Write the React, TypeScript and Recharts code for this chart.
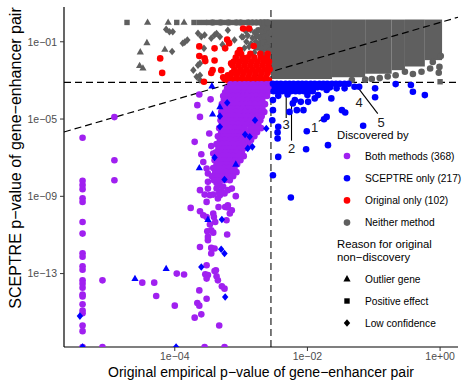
import React from 'react';
import { ScatterChart, Scatter, XAxis, YAxis, ReferenceLine, ReferenceArea, Legend } from 'recharts';

// all values are log10 p-values: [original empirical, SCEPTRE]
const P0 = -16.8; // p = 0 sits on the panel floor
const xDomain = [-5.67, 0.27];
const yDomain = [-16.8, 0.8];
const xTicks = [-4, -2, 0];
const yTicks = [-13, -9, -5, -1];
const originalCutoff = -2.55;
const sceptreCutoff = -3.1;

// the solid grey mass of non-discoveries (too dense to see single points)
const greyBlock = [
  { x1: -2.72, x2: -2.55, y1: -1.5, y2: 0.15 },
  { x1: -2.55, x2: -1.63, y1: -2.93, y2: 0.15 },
  { x1: -1.63, x2: -1.13, y1: -2.83, y2: 0.15 },
  { x1: -1.13, x2: -0.73, y1: -2.65, y2: 0.15 },
  { x1: -0.73, x2: -0.53, y1: -2.47, y2: 0.15 },
  { x1: -0.53, x2: -0.23, y1: -2.28, y2: 0.15 },
  { x1: -0.23, x2: 0.03, y1: -1.95, y2: 0.15 },
];

const neitherCircles = [
  [-3.43, 0], [-3.31, 0], [-3.19, 0], [-3.07, 0], [-3.01, 0], [-2.89, 0], [-2.83, 0], [-2.77, 0], [-2.71, 0], [-2.65, 0], [-2.6, 0],
  [-2.74, -0.4], [-2.67, -0.47], [-2.61, -0.35], [-2.57, -0.55], [-2.76, -0.7], [-2.7, -0.83], [-2.64, -0.72], [-2.58, -0.88],
  [-2.72, -1.12], [-2.66, -1.03], [-2.6, -1.17], [-2.76, -1.3], [-2.69, -1.38], [-2.62, -1.28], [-2.57, -1.45],
  [-2.68, -1.62], [-2.6, -1.7],
  [-1.33, -2.98], [-1.13, -2.96], [-1.03, -2.93], [-0.91, -2.88], [-0.79, -2.8], [-0.67, -2.73], [-0.53, -2.55],
  [-0.41, -2.67], [-0.28, -2.55], [-0.15, -2.38], [-0.01, -2.3], [-0.02, -2.6], [-0.11, -2.05], [0.01, -1.74],
];
const neitherSquares = [
  [-4.72, 0], [-3.97, 0], [-3.71, 0], [-3.63, 0], [-3.55, 0], [-3.49, 0], [-3.37, 0], [-3.25, 0], [-3.13, 0], [-2.95, 0],
  [0.0, -3.07],
];
const neitherTriangles = [
  [-4.41, 0], [-4.1, 0], [-3.86, 0], [-4.42, -1.05], [-4.52, -1.53], [-4.53, -2.23], [-4.48, -2.36], [-4.15, -1.39],
];
const neitherDiamonds = [
  [-4.13, -0.36], [-4.08, -0.48], [-4.03, -0.48], [-4.04, -1.5], [-3.81, -0.91], [-3.85, -1.02], [-3.88, -1.08],
  [-3.65, -0.56], [-3.6, -0.74], [-3.55, -0.65], [-3.45, -0.82], [-3.4, -0.65], [-3.56, -1.34], [-3.62, -2.12],
  [-3.65, -2.21], [-3.67, -2.81], [-3.62, -2.98], [-3.62, -2.73], [-3.72, -2.47], [-3.02, -2.98], [-3.07, -2.73],
  [-3.37, -0.57], [-3.32, -0.74], [-3.1, -0.91], [-2.99, -0.74], [-2.92, -1.0], [-2.93, -0.45], [-2.86, -0.38],
  [-2.8, -0.52], [-2.97, -0.75], [-2.9, -0.68], [-2.83, -0.8], [-2.85, -1.1], [-2.78, -0.98], [-2.95, -1.32],
  [-2.88, -1.25], [-2.8, -1.55], [-3.2, -0.4], [-3.28, -1.15],
];

const originalCircles = [
  [-4.22, -1.86], [-4.19, -2.61], [-3.63, -1.24], [-3.63, -1.74], [-3.55, -1.86], [-3.54, -2.0], [-3.4, -1.97],
  [-3.4, -1.34], [-3.21, -0.89], [-3.18, -1.07], [-2.97, -0.31], [-2.88, -0.31], [-2.81, -1.22], [-3.24, -1.34],
  [-3.02, -1.43], [-3.05, -1.59], [-3.15, -2.12], [-3.43, -2.47], [-3.45, -2.62], [-3.3, -2.47], [-3.27, -2.84],
  [-3.56, -3.07], [-3.2, -2.73], [-3.25, -2.93],
  [-3.0, -1.62], [-2.86, -1.62], [-2.71, -1.62], [-2.6, -1.62],
  [-3.08, -1.82], [-2.98, -1.82], [-2.9, -1.82], [-2.8, -1.82], [-2.7, -1.82], [-2.61, -1.82],
  [-3.11, -2.02], [-3.02, -2.02], [-2.93, -2.02], [-2.84, -2.02], [-2.75, -2.02], [-2.66, -2.02], [-2.58, -2.02],
  [-3.13, -2.22], [-3.04, -2.22], [-2.95, -2.22], [-2.86, -2.22], [-2.77, -2.22], [-2.68, -2.22], [-2.59, -2.22],
  [-3.1, -2.42], [-3.01, -2.42], [-2.92, -2.42], [-2.83, -2.42], [-2.74, -2.42], [-2.65, -2.42], [-2.57, -2.42],
  [-3.14, -2.62], [-3.05, -2.62], [-2.96, -2.62], [-2.87, -2.62], [-2.78, -2.62], [-2.69, -2.62], [-2.6, -2.62],
  [-3.16, -2.82], [-3.07, -2.82], [-2.98, -2.82], [-2.89, -2.82], [-2.8, -2.82], [-2.71, -2.82], [-2.62, -2.82],
  [-3.2, -3.0], [-3.11, -3.0], [-3.02, -3.0], [-2.93, -3.0], [-2.84, -3.0], [-2.75, -3.0], [-2.66, -3.0], [-2.58, -3.0],
];

const bothSparse = [
  [-5.39, -5.97], [-5.39, -8.2], [-5.39, -8.42], [-5.39, -8.63], [-5.39, -9.1], [-5.39, -9.29], [-5.39, -10.33],
  [-5.39, -10.93], [-5.39, -11.95], [-5.39, -12.13], [-5.39, -12.62], [-5.39, -12.8], [-5.39, -13.35], [-5.39, -13.52],
  [-5.39, -13.73], [-5.39, -14.08], [-5.39, -14.18], [-5.39, -14.59], [-5.39, -14.91], [-5.39, -15.05], [-5.39, -15.69],
  [-5.39, -15.98], [-5.39, P0],
  [-4.91, -4.9], [-4.91, -7.13], [-4.91, -8.17], [-5.09, -13.35], [-5.09, P0],
  [-4.49, -13.47], [-4.31, -13.47], [-4.28, -14.16], [-3.97, -13.0], [-3.86, -13.05], [-4.0, -14.66],
  [-3.54, -13.04], [-3.5, -13.07], [-3.52, -13.26], [-3.4, -12.87], [-3.37, -13.14], [-3.35, -13.35], [-3.29, -13.66],
  [-3.25, -13.78], [-3.63, -13.87], [-3.52, -14.3], [-3.66, -14.52], [-3.63, -14.66], [-3.6, -15.11], [-3.7, -15.28],
  [-3.33, -15.69], [-3.55, P0], [-3.25, P0],
  [-3.5, -8.25], [-3.37, -8.17], [-3.32, -8.43], [-3.27, -8.51], [-3.2, -8.68], [-3.62, -8.68], [-3.5, -8.6],
  [-3.37, -8.6], [-3.3, -8.74], [-3.42, -8.91], [-3.55, -8.91], [-3.47, -8.94], [-3.32, -8.94], [-3.25, -8.85],
  [-3.35, -9.11], [-3.08, -8.99], [-3.52, -9.29], [-3.76, -9.6], [-3.34, -9.55], [-3.24, -9.55], [-3.2, -9.46],
  [-3.14, -9.72], [-3.62, -9.77], [-3.57, -9.98], [-3.52, -10.07], [-3.42, -9.89], [-3.41, -10.07], [-3.22, -10.24],
  [-3.47, -10.46], [-3.39, -10.33], [-3.51, -10.81], [-3.45, -10.76], [-3.42, -10.88], [-3.21, -10.98], [-3.5, -11.27],
  [-3.62, -11.62], [-3.45, -11.67], [-3.4, -11.7], [-3.45, -11.96], [-3.52, -12.57], [-3.38, -12.83],
  [-3.63, -3.73], [-3.46, -3.98], [-3.66, -4.28], [-3.62, -4.89], [-3.48, -5.75], [-3.7, -6.18], [-3.45, -6.4],
  [-3.6, -6.82], [-3.57, -7.22], [-3.52, -7.56], [-3.37, -8.31], [-3.33, -8.85], [-3.14, -8.6], [-3.5, -11.1],
  [-3.2, -9.58], [-3.17, -9.89], [-3.42, -6.78], [-3.5, -7.82],
];
const bothCore = [
  [-3.16, -3.2], [-3.09, -3.2], [-3.02, -3.2], [-2.95, -3.2], [-2.89, -3.2], [-2.82, -3.2], [-2.75, -3.2], [-2.69, -3.2], [-2.62, -3.2], [-2.57, -3.2],
  [-3.21, -3.4], [-3.13, -3.4], [-3.05, -3.4], [-2.99, -3.4], [-2.92, -3.4], [-2.85, -3.4], [-2.79, -3.4], [-2.72, -3.4], [-2.65, -3.4], [-2.58, -3.4],
  [-3.24, -3.61], [-3.17, -3.61], [-3.1, -3.61], [-3.03, -3.61], [-2.96, -3.61], [-2.88, -3.61], [-2.81, -3.61], [-2.74, -3.61], [-2.67, -3.61], [-2.6, -3.61],
  [-3.27, -3.81], [-3.19, -3.81], [-3.12, -3.81], [-3.05, -3.81], [-2.97, -3.81], [-2.91, -3.81], [-2.84, -3.81], [-2.77, -3.81], [-2.7, -3.81], [-2.61, -3.81],
  [-3.26, -4.02], [-3.18, -4.02], [-3.1, -4.02], [-3.04, -4.02], [-2.98, -4.02], [-2.9, -4.02], [-2.82, -4.02], [-2.75, -4.02], [-2.68, -4.02],
  [-3.29, -4.23], [-3.22, -4.23], [-3.14, -4.23], [-3.07, -4.23], [-2.99, -4.23], [-2.93, -4.23], [-2.86, -4.23], [-2.79, -4.23], [-2.71, -4.23], [-2.64, -4.23],
  [-3.28, -4.44], [-3.2, -4.44], [-3.12, -4.44], [-3.05, -4.44], [-2.97, -4.44], [-2.89, -4.44], [-2.83, -4.44], [-2.76, -4.44], [-2.68, -4.44],
  [-3.3, -4.64], [-3.23, -4.64], [-3.16, -4.64], [-3.08, -4.64], [-3.01, -4.64], [-2.94, -4.64], [-2.87, -4.64], [-2.8, -4.64], [-2.72, -4.64], [-2.65, -4.64],
  [-3.27, -4.85], [-3.19, -4.85], [-3.11, -4.85], [-3.04, -4.85], [-2.96, -4.85], [-2.9, -4.85], [-2.84, -4.85], [-2.76, -4.85], [-2.69, -4.85],
  [-3.31, -5.06], [-3.24, -5.06], [-3.15, -5.06], [-3.07, -5.06], [-3.0, -5.06], [-2.93, -5.06], [-2.85, -5.06], [-2.78, -5.06], [-2.71, -5.06],
  [-3.29, -5.26], [-3.21, -5.26], [-3.13, -5.26], [-3.05, -5.26], [-2.98, -5.26], [-2.9, -5.26], [-2.82, -5.26], [-2.74, -5.26],
  [-3.33, -5.47], [-3.25, -5.47], [-3.17, -5.47], [-3.09, -5.47], [-3.02, -5.47], [-2.95, -5.47], [-2.86, -5.47], [-2.78, -5.47], [-2.7, -5.47],
  [-3.3, -5.68], [-3.22, -5.68], [-3.14, -5.68], [-3.06, -5.68], [-2.99, -5.68], [-2.91, -5.68], [-2.83, -5.68], [-2.76, -5.68],
  [-3.35, -5.89], [-3.27, -5.89], [-3.19, -5.89], [-3.11, -5.89], [-3.03, -5.89], [-2.96, -5.89], [-2.88, -5.89], [-2.8, -5.89],
  [-3.32, -6.09], [-3.24, -6.09], [-3.16, -6.09], [-3.08, -6.09], [-3.0, -6.09], [-2.92, -6.09], [-2.85, -6.09],
  [-3.37, -6.3], [-3.29, -6.3], [-3.21, -6.3], [-3.13, -6.3], [-3.05, -6.3], [-2.97, -6.3], [-2.89, -6.3],
  [-3.34, -6.51], [-3.26, -6.51], [-3.18, -6.51], [-3.1, -6.51], [-3.02, -6.51], [-2.95, -6.51],
  [-3.38, -6.72], [-3.31, -6.72], [-3.23, -6.72], [-3.15, -6.72], [-3.07, -6.72], [-2.99, -6.72],
  [-3.36, -6.92], [-3.28, -6.92], [-3.2, -6.92], [-3.12, -6.92], [-3.04, -6.92], [-2.96, -6.92],
  [-3.4, -7.13], [-3.33, -7.13], [-3.25, -7.13], [-3.17, -7.13], [-3.09, -7.13], [-3.01, -7.13],
  [-3.37, -7.34], [-3.29, -7.34], [-3.22, -7.34], [-3.14, -7.34], [-3.06, -7.34],
  [-3.42, -7.54], [-3.34, -7.54], [-3.26, -7.54], [-3.18, -7.54], [-3.1, -7.54],
  [-3.39, -7.75], [-3.31, -7.75], [-3.23, -7.75], [-3.15, -7.75], [-3.07, -7.75],
  [-3.44, -7.96], [-3.36, -7.96], [-3.28, -7.96], [-3.2, -7.96], [-3.12, -7.96],
  [-3.41, -8.17], [-3.33, -8.17], [-3.25, -8.17], [-3.17, -8.17],
];

const sceptreCircles = [
  [-2.52, -3.17], [-2.46, -3.17], [-2.4, -3.17], [-2.33, -3.17], [-2.27, -3.17], [-2.21, -3.17], [-2.14, -3.17], [-2.08, -3.17],
  [-2.02, -3.17], [-1.95, -3.17], [-1.89, -3.17], [-1.82, -3.17], [-1.76, -3.17], [-1.7, -3.17], [-1.63, -3.17], [-1.57, -3.17],
  [-1.51, -3.17], [-1.44, -3.17], [-1.38, -3.17],
  [-2.49, -3.36], [-2.43, -3.36], [-2.36, -3.36], [-2.3, -3.36], [-2.23, -3.36], [-2.17, -3.36], [-2.1, -3.36], [-2.04, -3.36],
  [-1.97, -3.36], [-1.91, -3.36], [-1.85, -3.36], [-1.78, -3.36], [-1.72, -3.36], [-1.66, -3.36], [-1.56, -3.41], [-1.44, -3.41],
  [-2.51, -3.56], [-2.45, -3.56], [-2.38, -3.56], [-2.31, -3.56], [-2.25, -3.56], [-2.18, -3.56], [-2.12, -3.56], [-2.05, -3.56],
  [-1.98, -3.56], [-1.92, -3.56], [-1.71, -3.5],
  [-2.44, -3.8], [-2.3, -3.73], [-2.0, -3.76], [-1.84, -3.76], [-1.89, -3.93], [-1.64, -3.93],
  [-2.19, -4.02], [-2.22, -4.19], [-2.16, -4.54], [-2.06, -4.54], [-2.1, -4.11], [-1.99, -4.11], [-2.27, -4.63],
  [-1.48, -4.54], [-1.43, -4.66], [-1.71, -4.89], [-1.75, -5.01], [-2.01, -5.63], [-1.69, -6.35], [-2.02, -6.56],
  [-1.16, -5.35], [-0.98, -3.41], [-0.98, -3.87], [-1.22, -3.33], [-1.29, -3.33], [-0.67, -3.19], [-0.41, -3.59],
  [-0.23, -3.76], [-0.44, -3.24],
  [-2.52, -4.02], [-2.52, -4.54], [-2.53, -5.06], [-2.45, -5.69], [-2.44, -5.4], [-2.45, -6.01], [-2.44, -6.96],
  [-2.52, -7.91], [-2.25, -9.06],
];
const sceptreTriangles = [
  [-3.44, -3.29], [-3.43, -4.75], [-3.32, -4.37], [-3.63, -7.53], [-3.08, -7.34], [-3.5, -10.2], [-4.13, -12.74], [-4.6, -13.26],
];
const sceptreDiamonds = [
  [-3.32, -4.85], [-3.32, -5.4], [-2.94, -5.8], [-2.87, -5.92], [-2.9, -6.52], [-2.83, -6.44], [-2.79, -5.06],
  [-3.4, -6.99], [-3.25, -8.13], [-3.29, -10.2], [-3.3, -11.74], [-3.25, -11.96], [-3.6, -12.66], [-3.24, -14.21],
  [-5.43, -15.2], [-3.98, P0], [-5.39, P0], [-3.21, -4.16], [-2.62, -5.49],
];

// numbered call-outs and their leader lines
const notes = [
  { x: -1.89, y: -5.42, label: '1' },
  { x: -2.24, y: -6.51, label: '2' },
  { x: -2.32, y: -5.28, label: '3' },
  { x: -1.22, y: -4.14, label: '4' },
  { x: -0.89, y: -5.16, label: '5' },
];
const leaders = [
  [[-1.83, -5.12], [-1.74, -4.93]],
  [[-2.24, -6.12], [-2.24, -4.23]],
  [[-2.32, -4.94], [-2.32, -3.62]],
  [[-0.94, -4.72], [-1.25, -3.32]],
];

const FONT = '"Liberation Sans", Arial, Helvetica, sans-serif';
const GREY = '#5f5f5f';
const RED = '#FF0000';
const PURPLE = '#A020F0';
const BLUE = '#0000FF';

const toPts = (arr: number[][]) => arr.map(([x, y]) => ({ x, y }));

const drawMark = (kind: string, color: string, cx: number, cy: number) => {
  if (kind === 'triangle')
    return <polygon points={`${cx},${cy - 3.9} ${cx - 3.6},${cy + 2.4} ${cx + 3.6},${cy + 2.4}`} fill={color} />;
  if (kind === 'square')
    return <rect x={cx - 2.7} y={cy - 2.7} width={5.4} height={5.4} fill={color} />;
  if (kind === 'diamond')
    return <polygon points={`${cx},${cy - 3.8} ${cx + 3.2},${cy} ${cx},${cy + 3.8} ${cx - 3.2},${cy}`} fill={color} />;
  return <circle cx={cx} cy={cy} r={3.3} fill={color} />;
};

const shapeOf = (kind: string, color: string) => (props: any) => {
  const { cx, cy } = props;
  if (typeof cx !== 'number' || typeof cy !== 'number') return <g />;
  return drawMark(kind, color, cx, cy);
};

const NoteLabel = (props: any) => {
  const { cx, cy, payload } = props;
  if (typeof cx !== 'number') return <g />;
  return (
    <text x={cx} y={cy} textAnchor="middle" dominantBaseline="central" fontSize={13} fill="#1a1a1a" fontFamily={FONT}>
      {payload.label}
    </text>
  );
};

const fmtExp = (v: number) => `1e${v < 0 ? '\u2212' : '+'}${String(Math.abs(v)).padStart(2, '0')}`;

const discovered = [
  { label: 'Both methods (368)', color: PURPLE },
  { label: 'SCEPTRE only (217)', color: BLUE },
  { label: 'Original only (102)', color: RED },
  { label: 'Neither method', color: GREY },
];
const reasons = [
  { label: 'Outlier gene', kind: 'triangle' },
  { label: 'Positive effect', kind: 'square' },
  { label: 'Low confidence', kind: 'diamond' },
];

const LegendBox = () => (
  <svg width={129} height={215} style={{ display: 'block', fontFamily: FONT }}>
    <text x={4} y={10.5} dominantBaseline="central" fontSize={11.3} fill="#000">Discovered by</text>
    {discovered.map((d, i) => (
      <g key={d.label}>
        {drawMark('circle', d.color, 14, 32 + i * 22.2)}
        <text x={32} y={32 + i * 22.2} dominantBaseline="central" fontSize={10.2} fill="#000">{d.label}</text>
      </g>
    ))}
    <text x={4} y={120} dominantBaseline="central" fontSize={11.3} fill="#000">Reason for original</text>
    <text x={4} y={133} dominantBaseline="central" fontSize={11.3} fill="#000">{'non\u2212discovery'}</text>
    {reasons.map((r, i) => (
      <g key={r.label}>
        {drawMark(r.kind, '#000', 14, 155 + i * 22)}
        <text x={32} y={155 + i * 22} dominantBaseline="central" fontSize={10.2} fill="#000">{r.label}</text>
      </g>
    ))}
  </svg>
);

const series = [
  { data: neitherCircles, kind: 'circle', color: GREY },
  { data: neitherSquares, kind: 'square', color: GREY },
  { data: neitherTriangles, kind: 'triangle', color: GREY },
  { data: neitherDiamonds, kind: 'diamond', color: GREY },
  { data: originalCircles, kind: 'circle', color: RED },
  { data: bothSparse, kind: 'circle', color: PURPLE },
  { data: bothCore, kind: 'circle', color: PURPLE },
  { data: sceptreCircles, kind: 'circle', color: BLUE },
  { data: sceptreTriangles, kind: 'triangle', color: BLUE },
  { data: sceptreDiamonds, kind: 'diamond', color: BLUE },
];

export default function App() {
  const tickStyle = { fill: '#4D4D4D', fontSize: 10.5, fontFamily: FONT };
  return (
    <div style={{ position: 'absolute', left: 0, top: 0, width: 462, height: 380, background: '#fff' }}>
      <ScatterChart width={462} height={380} margin={{ top: 7, right: 4, bottom: 0, left: 0 }}>
        <XAxis
          type="number"
          dataKey="x"
          domain={xDomain}
          ticks={xTicks}
          tickFormatter={fmtExp}
          allowDataOverflow
          height={33}
          tickSize={4}
          tickMargin={2}
          tick={tickStyle}
          axisLine={{ stroke: '#000', strokeWidth: 1.2 }}
          tickLine={{ stroke: '#333' }}
          label={{ value: 'Original empirical p\u2212value of gene\u2212enhancer pair', position: 'center', dy: 9, fill: '#000', fontSize: 14, fontFamily: FONT }}
        />
        <YAxis
          type="number"
          dataKey="y"
          domain={yDomain}
          ticks={yTicks}
          tickFormatter={fmtExp}
          allowDataOverflow
          width={64}
          tickSize={4}
          tickMargin={3}
          tick={tickStyle}
          axisLine={{ stroke: '#000', strokeWidth: 1.2 }}
          tickLine={{ stroke: '#333' }}
          label={{ value: 'SCEPTRE p\u2212value of gene\u2212enhancer pair', position: 'center', angle: -90, dx: -17, dy: -19, fill: '#000', fontSize: 16, fontFamily: FONT }}
        />
        {greyBlock.map((r, i) => (
          <ReferenceArea key={i} x1={r.x1} x2={r.x2} y1={r.y1} y2={r.y2} fill={GREY} fillOpacity={1} stroke="none" ifOverflow="extendDomain" />
        ))}
        {series.map((s, i) => (
          <Scatter key={i} data={toPts(s.data)} shape={shapeOf(s.kind, s.color)} isAnimationActive={false} />
        ))}
        <ReferenceLine y={sceptreCutoff} stroke="#000" strokeWidth={1.2} strokeDasharray="7 4" />
        <ReferenceLine x={originalCutoff} stroke="#222" strokeWidth={1.2} strokeDasharray="7 4" />
        <ReferenceLine
          segment={[{ x: xDomain[0], y: xDomain[0] }, { x: xDomain[1], y: xDomain[1] }]}
          stroke="#000"
          strokeWidth={1.2}
          strokeDasharray="7 4"
        />
        {leaders.map((l, i) => (
          <ReferenceLine key={i} segment={[{ x: l[0][0], y: l[0][1] }, { x: l[1][0], y: l[1][1] }]} stroke="#000" strokeWidth={1.1} />
        ))}
        <Scatter data={notes} shape={NoteLabel} isAnimationActive={false} />
        <Legend
          content={<LegendBox />}
          layout="vertical"
          align="center"
          verticalAlign="middle"
          wrapperStyle={{ left: 333, top: 124, width: 129, height: 215 }}
        />
      </ScatterChart>
    </div>
  );
}
